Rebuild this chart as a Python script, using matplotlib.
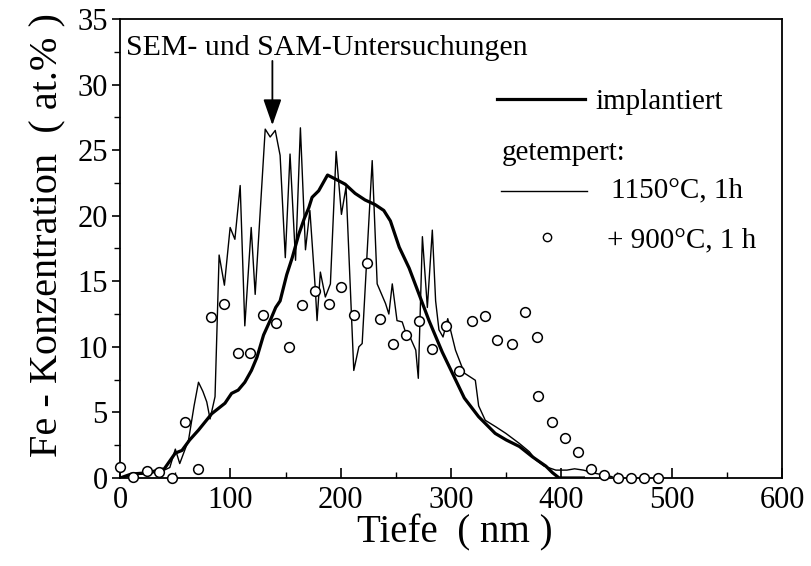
import matplotlib
matplotlib.use("Agg")
import matplotlib.pyplot as plt
from matplotlib.ticker import MultipleLocator

# Fe depth profiles (Tiefe in nm, Konzentration in at.%)
implant_x = [0, 10, 25, 40, 50, 56, 63, 71, 83, 95, 101, 107, 113, 119, 124, 130, 137, 141, 145,
             151, 156, 162, 167, 171, 174, 180, 188, 195, 204, 213, 222, 231, 239, 245, 253, 262,
             271, 280, 292, 304, 312, 325, 340, 350, 362, 374, 386, 392, 398, 410, 420]
implant_y = [0.0, 0.3, 0.4, 0.7, 1.9, 2.1, 2.9, 3.65, 4.9, 5.7, 6.45, 6.7, 7.3, 8.2, 9.2, 10.9, 12.2, 13.0, 13.5,
             15.5, 16.8, 18.6, 19.8, 20.6, 21.4, 21.9, 23.1, 22.8, 22.4, 21.7, 21.2, 20.85, 20.4, 19.6, 17.6, 16.0,
             14.0, 12.0, 9.6, 7.5, 6.1, 4.67, 3.4, 2.9, 2.4, 1.6, 0.9, 0.4, 0.0, 0.0, 0.0]

anneal_x = [0, 10, 20, 30, 40, 45, 50, 54, 58, 62, 67, 71, 75, 78.5, 81.5, 86, 89.7, 94.5, 99.7, 104,
            108.8, 113, 118.8, 122.4, 131.5, 136, 140.6, 145, 149.7, 154, 159, 163.4, 168, 172, 177,
            178.5, 181.5, 186, 190.6, 195.8, 200.6, 204.8, 211.8, 216.4, 219.4, 224, 228.5, 233, 240.6,
            243.6, 246.7, 251, 255.7, 258.8, 263, 268, 270.3, 274, 278.5, 283, 286, 289, 292.7, 297,
            304, 312, 322, 325, 331, 340.6, 349.7, 361.8, 371, 377, 384.5, 395, 405, 412, 420, 431, 446]
anneal_y = [0.0, 0.2, 0.3, 0.4, 0.6, 0.8, 2.2, 1.1, 2.0, 2.9, 5.5, 7.3, 6.6, 5.8, 4.5, 6.2, 17.0, 14.7, 19.1, 18.2,
            22.3, 11.6, 19.1, 14.0, 26.6, 26.0, 26.5, 24.6, 16.8, 24.7, 16.6, 26.7, 17.4, 20.4, 14.3,
            12.0, 15.7, 13.8, 14.8, 24.9, 20.1, 22.2, 8.2, 10.0, 10.25, 17.35, 24.2, 14.8, 13.3,
            12.5, 14.8, 12.0, 11.9, 11.1, 10.7, 9.75, 7.6, 18.4, 13.0, 18.9, 13.5, 11.3, 10.75, 12.15,
            9.75, 8.0, 7.45, 5.5, 4.4, 3.9, 3.4, 2.64, 2.0, 1.37, 0.9, 0.6, 0.6, 0.7, 0.6, 0.35, 0.1]

circle_x = [0, 11.8, 24, 35.5, 47, 58.8, 71, 82.4, 94.2, 106.4, 117.9, 129.7, 141.5, 153.3, 164.8,
            177, 189, 200.6, 212.4, 224, 236, 247.6, 258.8, 270.9, 282.4, 295, 307, 318.8, 331,
            342, 354.8, 366.9, 378, 379, 391.2, 403.3, 415.5, 427, 439, 451, 463, 475, 487.5]
circle_y = [0.86, 0.05, 0.56, 0.48, 0.0, 4.3, 0.68, 12.3, 13.3, 9.5, 9.5, 12.4, 11.8, 10.0, 13.2,
            14.25, 13.3, 14.6, 12.45, 16.4, 12.15, 10.2, 10.9, 12.0, 9.8, 11.6, 8.17, 12.0, 12.35,
            10.55, 10.25, 12.66, 10.75, 6.24, 4.29, 3.07, 1.95, 0.66, 0.23, 0.0, 0.0, 0.0, 0.0]

serif = ["Liberation Serif", "DejaVu Serif"]
plt.rcParams["font.family"] = serif

fig = plt.figure(figsize=(8.12, 5.66), dpi=100)
ax = fig.add_axes([0.148, 0.1555, 0.815, 0.811])

ax.plot(implant_x, implant_y, color="black", lw=2.3, solid_joinstyle="round")
ax.plot(anneal_x, anneal_y, color="black", lw=1.0)
ax.plot(circle_x, circle_y, "o", ms=7, mfc="white", mec="black", mew=1.1, ls="none",
        clip_on=False, zorder=5)

ax.set_xlim(0, 600)
ax.set_ylim(0, 35)
ax.xaxis.set_major_locator(MultipleLocator(100))
ax.xaxis.set_minor_locator(MultipleLocator(50))
ax.yaxis.set_major_locator(MultipleLocator(5))
ax.yaxis.set_minor_locator(MultipleLocator(2.5))
ax.tick_params(axis="x", which="major", direction="in", length=7, width=1.2, labelsize=22, pad=6)
ax.tick_params(axis="x", which="minor", direction="in", length=4, width=1.0)
ax.tick_params(axis="y", which="major", direction="out", length=6, width=1.2, labelsize=22, pad=3)
ax.tick_params(axis="y", which="minor", direction="out", length=4, width=1.0)
for sp in ax.spines.values():
    sp.set_linewidth(1.3)

ax.set_xlabel("Tiefe  ( nm )", fontsize=28)
ax.set_ylabel("Fe - Konzentration  ( at.% )", fontsize=29)
ax.xaxis.set_label_coords(0.506, -0.08)
ax.yaxis.set_label_coords(-0.082, 0.53)

# annotation with arrow
ax.text(5.5, 32.8, "SEM- und SAM-Untersuchungen", fontsize=21.5, va="center", ha="left")
ax.annotate("", xy=(138, 26.9), xytext=(138, 31.8),
            arrowprops=dict(arrowstyle="-|>,head_length=0.8,head_width=0.28",
                            color="black", lw=1.3, mutation_scale=20, shrinkA=0, shrinkB=0))

# hand-made legend
ax.plot([342, 421], [28.9, 28.9], color="black", lw=2.3)
ax.text(431, 28.7, "implantiert", fontsize=21, va="center")
ax.text(346, 24.8, "getempert:", fontsize=21, va="center")
ax.plot([345, 423], [21.9, 21.9], color="black", lw=1.0)
ax.text(445, 21.9, "1150°C, 1h", fontsize=21, va="center")
ax.plot([387], [18.4], "o", ms=6, mfc="white", mec="black", mew=1.0)
ax.text(441, 18.1, "+ 900°C, 1 h", fontsize=21, va="center")

fig.savefig("out.png", dpi=100)
